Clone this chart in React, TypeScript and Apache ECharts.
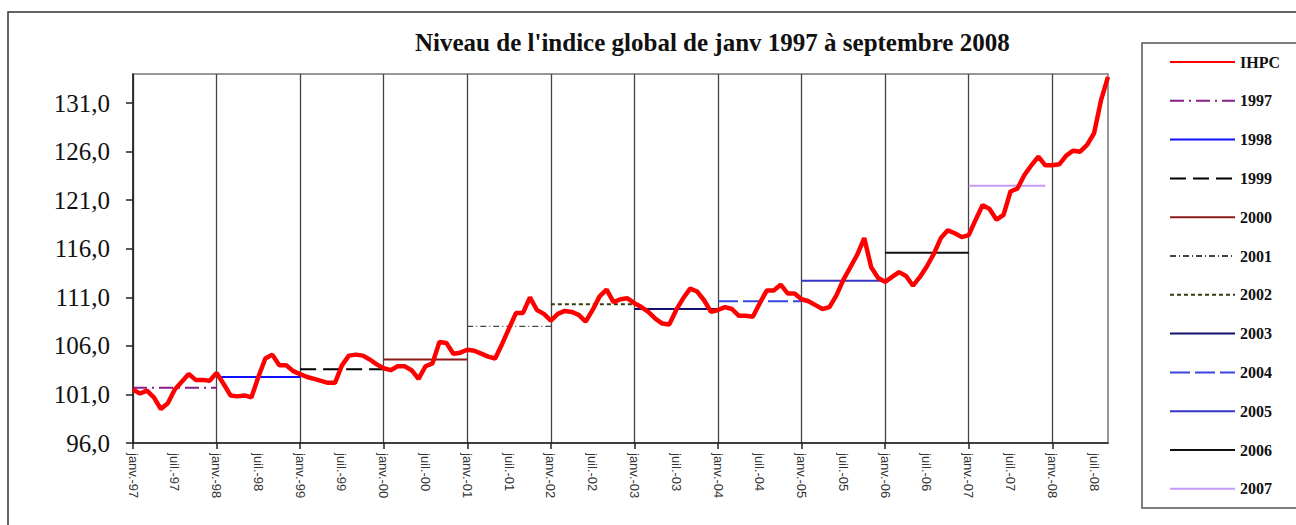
import React, { useEffect, useRef } from "react";
import * as echarts from "echarts";

// ---- Data ----
const MONTHS = ["janv.", "févr.", "mars", "avr.", "mai", "juin", "juil.", "août", "sept.", "oct.", "nov.", "déc."];
const START_YEAR = 1997;
const N_MONTHS = 141; // janv. 1997 -> sept. 2008

const ihpc1997 = [101.5, 101.1, 101.4, 100.7, 99.5, 100.1, 101.5, 102.3, 103.1, 102.5, 102.5, 102.4];
const ihpc1998 = [103.2, 102.1, 100.9, 100.8, 100.9, 100.7, 102.8, 104.7, 105.1, 104.0, 104.0, 103.4];
const ihpc1999 = [103.1, 102.8, 102.6, 102.4, 102.2, 102.2, 104.0, 105.0, 105.1, 105.0, 104.6, 104.1];
const ihpc2000 = [103.7, 103.5, 103.9, 103.9, 103.5, 102.6, 103.9, 104.2, 106.4, 106.3, 105.2, 105.3];
const ihpc2001 = [105.6, 105.5, 105.2, 104.9, 104.7, 106.2, 107.8, 109.4, 109.4, 111.0, 109.7, 109.3];
const ihpc2002 = [108.6, 109.3, 109.6, 109.5, 109.2, 108.5, 109.7, 111.1, 111.8, 110.5, 110.8, 110.9];
const ihpc2003 = [110.4, 110.0, 109.5, 108.8, 108.3, 108.2, 109.7, 110.9, 111.9, 111.6, 110.7, 109.5];
const ihpc2004 = [109.7, 110.0, 109.8, 109.1, 109.1, 109.0, 110.4, 111.7, 111.7, 112.3, 111.4, 111.4];
const ihpc2005 = [110.8, 110.6, 110.2, 109.8, 110.0, 111.2, 112.8, 114.1, 115.4, 117.1, 114.1, 113.0];
const ihpc2006 = [112.6, 113.1, 113.6, 113.2, 112.2, 113.1, 114.2, 115.5, 117.1, 117.9, 117.6, 117.2];
const ihpc2007 = [117.4, 119.0, 120.5, 120.1, 119.0, 119.5, 121.9, 122.2, 123.6, 124.6, 125.5, 124.6];
const ihpc2008 = [124.6, 124.7, 125.6, 126.1, 126.0, 126.7, 127.9, 131.3, 133.7];

const avgYears = ["1997", "1998", "1999", "2000", "2001", "2002", "2003", "2004", "2005", "2006", "2007"];
const avgValues = [101.7, 102.8, 103.6, 104.6, 108.0, 110.3, 109.8, 110.6, 112.7, 115.6, 122.5];
const avgColors = ["#8a1c8a", "#1010ff", "#000000", "#8b1a1a", "#444444", "#3a3a10", "#10106e", "#3a46e0", "#3535c8", "#111111", "#c79af5"];
const avgDash: any[] = [[14, 5, 2, 5], "solid", [16, 7], "solid", [6, 3, 1, 3], [4, 3], "solid", [20, 5], "solid", "solid", "solid"];
const avgWidth = [2, 2, 2, 2, 1.2, 2, 2, 2, 2, 2, 2];

const yTicks = [96, 101, 106, 111, 116, 121, 126, 131];

const TITLE = "Niveau de l'indice global de janv 1997 à septembre 2008";

export default function App() {
  const ref = useRef<HTMLDivElement>(null);

  useEffect(() => {
    if (!ref.current) return;
    const chart = echarts.init(ref.current, null, { renderer: "svg" });

    const categories: string[] = [];
    for (let i = 0; i < N_MONTHS; i++) {
      const y = START_YEAR + Math.floor(i / 12);
      categories.push(`${MONTHS[i % 12]}-${String(y).slice(2)}`);
    }
    const ihpc = [
      ...ihpc1997, ...ihpc1998, ...ihpc1999, ...ihpc2000, ...ihpc2001, ...ihpc2002,
      ...ihpc2003, ...ihpc2004, ...ihpc2005, ...ihpc2006, ...ihpc2007, ...ihpc2008,
    ];

    const avgSeries = avgYears.map((name, k) => {
      const start = 12 * k;
      const end = k === avgYears.length - 1 ? start + 11 : start + 12;
      return {
        name,
        type: "line",
        symbol: "none",
        z: 2,
        data: categories.map((_, i) => (i >= start && i <= end ? avgValues[k] : null)),
        lineStyle: { color: avgColors[k], width: avgWidth[k], type: avgDash[k] },
        itemStyle: { color: avgColors[k] },
      };
    });

    chart.setOption({
      animation: false,
      backgroundColor: "#ffffff",
      title: {
        text: TITLE,
        left: 410,
        top: 25,
        textStyle: { fontFamily: "Liberation Serif", fontWeight: "bold", fontSize: 25, color: "#111" },
      },
      grid: {
        left: 133,
        right: 188,
        top: 74,
        bottom: 82,
        show: true,
        borderColor: "#777",
        borderWidth: 1.5,
      },
      legend: {
        orient: "vertical",
        left: 1164,
        top: 49,
        itemWidth: 65,
        itemHeight: 16,
        itemGap: 22.8,
        itemStyle: { opacity: 0, borderWidth: 0 },
        textStyle: { fontFamily: "Liberation Serif", fontWeight: "bold", fontSize: 16, color: "#111", lineHeight: 16 },
        data: ["IHPC", ...avgYears],
      },
      xAxis: {
        type: "category",
        boundaryGap: false,
        data: categories,
        axisLine: { lineStyle: { color: "#222", width: 1.5 } },
        axisTick: { interval: 11, length: 6, lineStyle: { color: "#222", width: 1.5 } },
        axisLabel: {
          interval: 5,
          rotate: -90,
          margin: 10,
          fontFamily: "Liberation Sans",
          fontSize: 13,
          color: "#333",
        },
        splitLine: { show: true, interval: 11, lineStyle: { color: "#444", width: 1.3 } },
      },
      yAxis: {
        type: "value",
        min: 96,
        max: 134,
        axisLine: { show: true, lineStyle: { color: "#222", width: 1.5 } },
        axisTick: { show: true, length: 7, customValues: yTicks, lineStyle: { color: "#222", width: 1.5 } },
        axisLabel: {
          customValues: yTicks,
          margin: 23,
          fontFamily: "Liberation Serif",
          fontSize: 25,
          color: "#111",
          formatter: (v: number) => v.toFixed(1).replace(".", ","),
        },
        splitLine: { show: false },
      },
      graphic: [
        {
          type: "rect",
          silent: true,
          z: -10,
          shape: { x: 8, y: 12, width: 1300, height: 530 },
          style: { fill: "none", stroke: "#333", lineWidth: 1.5 },
        },
        {
          type: "rect",
          silent: true,
          z: -10,
          shape: { x: 1142, y: 43, width: 200, height: 465 },
          style: { fill: "none", stroke: "#555", lineWidth: 1.5 },
        },
      ],
      series: [
        {
          name: "IHPC",
          type: "line",
          symbol: "none",
          z: 5,
          data: ihpc,
          lineStyle: { color: "#ff0000", width: 4.5 },
          itemStyle: { color: "#ff0000" },
        },
        ...avgSeries,
      ],
    });

    return () => chart.dispose();
  }, []);

  return <div ref={ref} style={{ position: "absolute", left: 0, top: 0, width: 1296, height: 525 }} />;
}
